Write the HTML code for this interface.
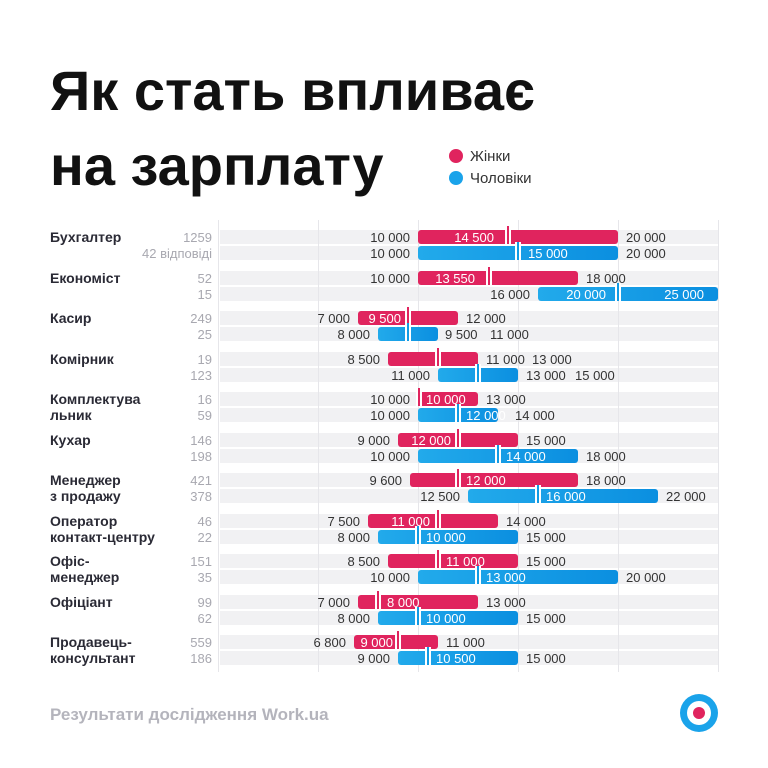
<!DOCTYPE html>
<html><head><meta charset="utf-8"><style>
html,body{margin:0;padding:0;background:#fff;}
svg{display:block;font-family:"Liberation Sans",sans-serif;}
.n{font-size:14px;font-weight:bold;fill:#2a2a35;}
.c{font-size:13px;fill:#a8a8b0;text-anchor:end;}
.v{font-size:13px;fill:#333;}
.e{text-anchor:end;}
.w{fill:#fff;}
</style></head><body>
<svg width="768" height="768" viewBox="0 0 768 768">
<defs><linearGradient id="b" x1="0" x2="1"><stop offset="0" stop-color="#22aaeb"/><stop offset="1" stop-color="#0b8fe0"/></linearGradient></defs>
<text x="50" y="110" font-size="56" font-weight="bold" fill="#111">Як стать впливає</text>
<text x="50" y="185" font-size="56" font-weight="bold" fill="#111">на зарплату</text>
<circle cx="456" cy="156" r="7" fill="#e0245e"/><text x="470" y="161" font-size="15" fill="#333">Жінки</text>
<circle cx="456" cy="178" r="7" fill="#1aa3ea"/><text x="470" y="183" font-size="15" fill="#333">Чоловіки</text>

<g fill="#f1f1f3">
<rect x="220" y="230" width="498" height="14"/><rect x="220" y="246" width="498" height="14"/>
<rect x="220" y="271" width="498" height="14"/><rect x="220" y="287" width="498" height="14"/>
<rect x="220" y="311" width="498" height="14"/><rect x="220" y="327" width="498" height="14"/>
<rect x="220" y="352" width="498" height="14"/><rect x="220" y="368" width="498" height="14"/>
<rect x="220" y="392" width="498" height="14"/><rect x="220" y="408" width="498" height="14"/>
<rect x="220" y="433" width="498" height="14"/><rect x="220" y="449" width="498" height="14"/>
<rect x="220" y="473" width="498" height="14"/><rect x="220" y="489" width="498" height="14"/>
<rect x="220" y="514" width="498" height="14"/><rect x="220" y="530" width="498" height="14"/>
<rect x="220" y="554" width="498" height="14"/><rect x="220" y="570" width="498" height="14"/>
<rect x="220" y="595" width="498" height="14"/><rect x="220" y="611" width="498" height="14"/>
<rect x="220" y="635" width="498" height="14"/><rect x="220" y="651" width="498" height="14"/>
</g>
<g stroke="#e6e6ea" stroke-width="1">
<line x1="218.5" y1="220" x2="218.5" y2="672"/><line x1="318.5" y1="220" x2="318.5" y2="672"/>
<line x1="418.5" y1="220" x2="418.5" y2="672"/><line x1="518.5" y1="220" x2="518.5" y2="672"/>
<line x1="618.5" y1="220" x2="618.5" y2="672"/><line x1="718.5" y1="220" x2="718.5" y2="672"/>
</g>

<text class="n" x="50" y="242">Бухгалтер</text>
<text class="n" x="50" y="283">Економіст</text>
<text class="n" x="50" y="323">Касир</text>
<text class="n" x="50" y="364">Комірник</text>
<text class="n" x="50" y="404">Комплектува</text><text class="n" x="50" y="420">льник</text>
<text class="n" x="50" y="445">Кухар</text>
<text class="n" x="50" y="485">Менеджер</text><text class="n" x="50" y="501">з продажу</text>
<text class="n" x="50" y="526">Оператор</text><text class="n" x="50" y="542">контакт-центру</text>
<text class="n" x="50" y="566">Офіс-</text><text class="n" x="50" y="582">менеджер</text>
<text class="n" x="50" y="607">Офіціант</text>
<text class="n" x="50" y="647">Продавець-</text><text class="n" x="50" y="663">консультант</text>
<text class="c" x="212" y="242">1259</text><text class="c" x="212" y="258">42 відповіді</text>
<text class="c" x="212" y="283">52</text><text class="c" x="212" y="299">15</text>
<text class="c" x="212" y="323">249</text><text class="c" x="212" y="339">25</text>
<text class="c" x="212" y="364">19</text><text class="c" x="212" y="380">123</text>
<text class="c" x="212" y="404">16</text><text class="c" x="212" y="420">59</text>
<text class="c" x="212" y="445">146</text><text class="c" x="212" y="461">198</text>
<text class="c" x="212" y="485">421</text><text class="c" x="212" y="501">378</text>
<text class="c" x="212" y="526">46</text><text class="c" x="212" y="542">22</text>
<text class="c" x="212" y="566">151</text><text class="c" x="212" y="582">35</text>
<text class="c" x="212" y="607">99</text><text class="c" x="212" y="623">62</text>
<text class="c" x="212" y="647">559</text><text class="c" x="212" y="663">186</text>

<g fill="#e0245e">
<rect x="418" y="230" width="200" height="14" rx="3"/>
<rect x="418" y="271" width="160" height="14" rx="3"/>
<rect x="358" y="311" width="100" height="14" rx="3"/>
<rect x="388" y="352" width="90" height="14" rx="3"/>
<rect x="418" y="392" width="60" height="14" rx="3"/>
<rect x="398" y="433" width="120" height="14" rx="3"/>
<rect x="410" y="473" width="168" height="14" rx="3"/>
<rect x="368" y="514" width="130" height="14" rx="3"/>
<rect x="388" y="554" width="130" height="14" rx="3"/>
<rect x="358" y="595" width="120" height="14" rx="3"/>
<rect x="354" y="635" width="84" height="14" rx="3"/>
</g>
<g fill="url(#b)">
<rect x="418" y="246" width="200" height="14" rx="3"/>
<rect x="538" y="287" width="180" height="14" rx="3"/>
<rect x="378" y="327" width="60" height="14" rx="3"/>
<rect x="438" y="368" width="80" height="14" rx="3"/>
<rect x="418" y="408" width="80" height="14" rx="3"/>
<rect x="418" y="449" width="160" height="14" rx="3"/>
<rect x="468" y="489" width="190" height="14" rx="3"/>
<rect x="378" y="530" width="140" height="14" rx="3"/>
<rect x="418" y="570" width="200" height="14" rx="3"/>
<rect x="378" y="611" width="140" height="14" rx="3"/>
<rect x="398" y="651" width="120" height="14" rx="3"/>
</g>
<g fill="#fff">
<rect x="505" y="226" width="6" height="18"/><rect x="515" y="242" width="6" height="18"/>
<rect x="486" y="267" width="6" height="18"/><rect x="615" y="283" width="6" height="18"/>
<rect x="405" y="307" width="6" height="18"/><rect x="405" y="323" width="6" height="18"/>
<rect x="435" y="348" width="6" height="18"/><rect x="475" y="364" width="6" height="18"/>
<rect x="416" y="388" width="6" height="18"/><rect x="455" y="404" width="6" height="18"/>
<rect x="455" y="429" width="6" height="18"/><rect x="495" y="445" width="6" height="18"/>
<rect x="455" y="469" width="6" height="18"/><rect x="535" y="485" width="6" height="18"/>
<rect x="435" y="510" width="6" height="18"/><rect x="415" y="526" width="6" height="18"/>
<rect x="435" y="550" width="6" height="18"/><rect x="475" y="566" width="6" height="18"/>
<rect x="375" y="591" width="6" height="18"/><rect x="415" y="607" width="6" height="18"/>
<rect x="395" y="631" width="6" height="18"/><rect x="425" y="647" width="6" height="18"/>
</g>
<g fill="#e0245e">
<rect x="507" y="226" width="2" height="18"/><rect x="488" y="267" width="2" height="18"/>
<rect x="407" y="307" width="2" height="18"/><rect x="437" y="348" width="2" height="18"/>
<rect x="418" y="388" width="2" height="18"/><rect x="457" y="429" width="2" height="18"/>
<rect x="457" y="469" width="2" height="18"/><rect x="437" y="510" width="2" height="18"/>
<rect x="437" y="550" width="2" height="18"/><rect x="377" y="591" width="2" height="18"/>
<rect x="397" y="631" width="2" height="18"/>
</g>
<g fill="#129be4">
<rect x="517" y="242" width="2" height="18"/><rect x="617" y="283" width="2" height="18"/>
<rect x="407" y="323" width="2" height="18"/><rect x="477" y="364" width="2" height="18"/>
<rect x="457" y="404" width="2" height="18"/><rect x="497" y="445" width="2" height="18"/>
<rect x="537" y="485" width="2" height="18"/><rect x="417" y="526" width="2" height="18"/>
<rect x="477" y="566" width="2" height="18"/><rect x="417" y="607" width="2" height="18"/>
<rect x="427" y="647" width="2" height="18"/>
</g>

<g class="v">
<text class="v e" x="410" y="242">10 000</text><text class="v w e" x="494" y="242">14 500</text><text class="v" x="626" y="242">20 000</text>
<text class="v e" x="410" y="258">10 000</text><text class="v w" x="528" y="258">15 000</text><text class="v" x="626" y="258">20 000</text>
<text class="v e" x="410" y="283">10 000</text><text class="v w e" x="475" y="283">13 550</text><text class="v" x="586" y="283">18 000</text>
<text class="v e" x="530" y="299">16 000</text><text class="v w e" x="606" y="299">20 000</text><text class="v w e" x="704" y="299">25 000</text>
<text class="v e" x="350" y="323">7 000</text><text class="v w e" x="401" y="323">9 500</text><text class="v" x="466" y="323">12 000</text>
<text class="v e" x="370" y="339">8 000</text><text class="v" x="445" y="339">9 500</text><text class="v" x="490" y="339">11 000</text>
<text class="v e" x="380" y="364">8 500</text><text class="v" x="486" y="364">11 000</text><text class="v" x="532" y="364">13 000</text>
<text class="v e" x="430" y="380">11 000</text><text class="v" x="526" y="380">13 000</text><text class="v" x="575" y="380">15 000</text>
<text class="v e" x="410" y="404">10 000</text><text class="v w" x="426" y="404">10 000</text><text class="v" x="486" y="404">13 000</text>
<text class="v e" x="410" y="420">10 000</text><text class="v w" x="466" y="420">12 000</text><text class="v" x="515" y="420">14 000</text>
<text class="v e" x="390" y="445">9 000</text><text class="v w e" x="451" y="445">12 000</text><text class="v" x="526" y="445">15 000</text>
<text class="v e" x="410" y="461">10 000</text><text class="v w" x="506" y="461">14 000</text><text class="v" x="586" y="461">18 000</text>
<text class="v e" x="402" y="485">9 600</text><text class="v w" x="466" y="485">12 000</text><text class="v" x="586" y="485">18 000</text>
<text class="v e" x="460" y="501">12 500</text><text class="v w" x="546" y="501">16 000</text><text class="v" x="666" y="501">22 000</text>
<text class="v e" x="360" y="526">7 500</text><text class="v w e" x="430" y="526">11 000</text><text class="v" x="506" y="526">14 000</text>
<text class="v e" x="370" y="542">8 000</text><text class="v w" x="426" y="542">10 000</text><text class="v" x="526" y="542">15 000</text>
<text class="v e" x="380" y="566">8 500</text><text class="v w" x="446" y="566">11 000</text><text class="v" x="526" y="566">15 000</text>
<text class="v e" x="410" y="582">10 000</text><text class="v w" x="486" y="582">13 000</text><text class="v" x="626" y="582">20 000</text>
<text class="v e" x="350" y="607">7 000</text><text class="v w" x="387" y="607">8 000</text><text class="v" x="486" y="607">13 000</text>
<text class="v e" x="370" y="623">8 000</text><text class="v w" x="426" y="623">10 000</text><text class="v" x="526" y="623">15 000</text>
<text class="v e" x="346" y="647">6 800</text><text class="v w e" x="393" y="647">9 000</text><text class="v" x="446" y="647">11 000</text>
<text class="v e" x="390" y="663">9 000</text><text class="v w" x="436" y="663">10 500</text><text class="v" x="526" y="663">15 000</text>
</g>

<text x="50" y="720" font-size="17" font-weight="bold" fill="#b4b4bc">Результати дослідження Work.ua</text>
<circle cx="699" cy="713" r="19" fill="#1aa3ea"/><circle cx="699" cy="713" r="12" fill="#fff"/><circle cx="699" cy="713" r="6" fill="#e0245e"/>
</svg>
</body></html>
